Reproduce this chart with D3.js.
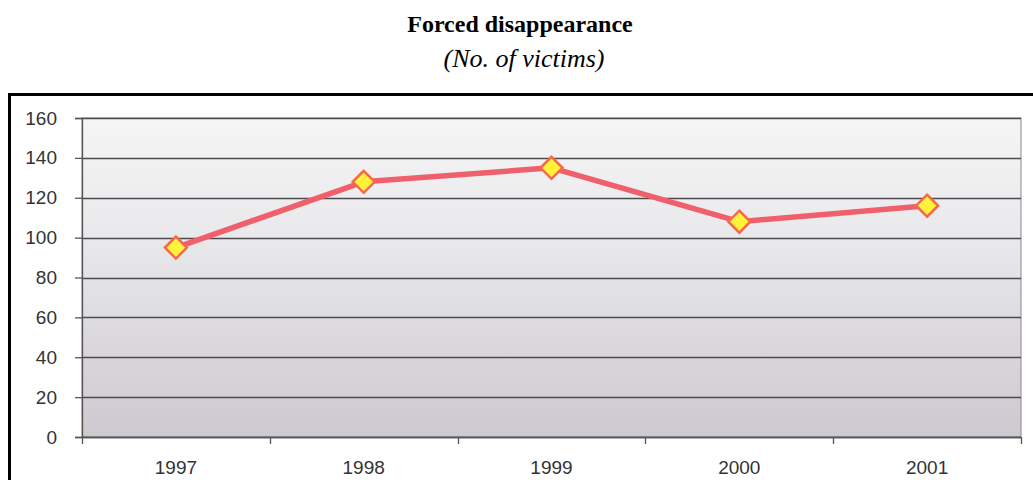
<!DOCTYPE html>
<html>
<head>
<meta charset="utf-8">
<script src="https://cdn.jsdelivr.net/npm/d3@7"></script>
<style>
  body { margin: 0; background: #fff; }
  svg { display: block; }
</style>
</head>
<body>
<div id="chart"></div>
<script>
// chart data
var years = ["1997", "1998", "1999", "2000", "2001"];
var victims = [95, 128, 135, 108, 116];
var yTicks = [0, 20, 40, 60, 80, 100, 120, 140, 160];

var svgWidth = 1033;
var svgHeight = 480;

var margin = { top: 118, right: 12, bottom: 43, left: 82 };
var width = 1021 - margin.left;
var height = 437 - margin.top;

var svg = d3.select("#chart")
  .append("svg")
  .attr("width", svgWidth)
  .attr("height", svgHeight);

// titles
svg.append("text")
  .attr("x", 520)
  .attr("y", 32)
  .attr("text-anchor", "middle")
  .attr("font-family", "Liberation Serif, Times New Roman, serif")
  .attr("font-weight", "bold")
  .attr("font-size", "24px")
  .attr("fill", "#000")
  .text("Forced disappearance");

svg.append("text")
  .attr("x", 524)
  .attr("y", 67)
  .attr("text-anchor", "middle")
  .attr("font-family", "Liberation Serif, Times New Roman, serif")
  .attr("font-style", "italic")
  .attr("font-size", "26px")
  .attr("fill", "#000")
  .text("(No. of victims)");

// outer frame (right and bottom run off the page)
svg.append("rect")
  .attr("x", 9.5)
  .attr("y", 94.5)
  .attr("width", 1040)
  .attr("height", 400)
  .attr("fill", "none")
  .attr("stroke", "#000")
  .attr("stroke-width", 3);

// plot background gradient
var defs = svg.append("defs");
var grad = defs.append("linearGradient")
  .attr("id", "bg")
  .attr("x1", 0).attr("y1", 0)
  .attr("x2", 0).attr("y2", 1);
grad.append("stop").attr("offset", "0%").attr("stop-color", "#f5f5f6");
grad.append("stop").attr("offset", "35%").attr("stop-color", "#eaeaec");
grad.append("stop").attr("offset", "100%").attr("stop-color", "#cdc9d0");

var chartGroup = svg.append("g")
  .attr("transform", `translate(${margin.left}, ${margin.top})`);

chartGroup.append("rect")
  .attr("width", width)
  .attr("height", height)
  .attr("fill", "url(#bg)")
  .attr("stroke", "#8a878c")
  .attr("stroke-width", 1);

// scales
var xBand = d3.scaleBand()
  .domain(years)
  .range([0, width]);

var yLinearScale = d3.scaleLinear()
  .domain([0, 160])
  .range([height, 0]);

// gridlines
chartGroup.selectAll(".grid")
  .data(yTicks)
  .enter()
  .append("line")
  .attr("class", "grid")
  .attr("x1", 0)
  .attr("x2", width)
  .attr("y1", d => Math.round(yLinearScale(d)) + 0.5)
  .attr("y2", d => Math.round(yLinearScale(d)) + 0.5)
  .attr("stroke", "#4d4a4e")
  .attr("stroke-width", 1.3);

// y axis
var leftAxis = d3.axisLeft(yLinearScale)
  .tickValues(yTicks)
  .tickSize(7)
  .tickPadding(18);

var yAxis = chartGroup.append("g").call(leftAxis);
yAxis.select(".domain").attr("stroke", "#555").attr("stroke-width", 1.3);
yAxis.selectAll(".tick line").attr("stroke", "#555").attr("stroke-width", 1.3);
yAxis.selectAll("text")
  .attr("font-family", "Liberation Sans, Arial, sans-serif")
  .attr("font-size", "19px")
  .attr("fill", "#333");

// x axis: ticks sit on the category boundaries
var xAxis = chartGroup.append("g")
  .attr("transform", `translate(0, ${height})`);

xAxis.append("line")
  .attr("x1", 0).attr("x2", width)
  .attr("y1", 0.5).attr("y2", 0.5)
  .attr("stroke", "#555")
  .attr("stroke-width", 1.3);

xAxis.selectAll(".xtick")
  .data(years.concat(["end"]))
  .enter()
  .append("line")
  .attr("class", "xtick")
  .attr("x1", (d, i) => Math.round(i * xBand.step()) + 0.5)
  .attr("x2", (d, i) => Math.round(i * xBand.step()) + 0.5)
  .attr("y1", 0)
  .attr("y2", 7)
  .attr("stroke", "#555")
  .attr("stroke-width", 1.3);

xAxis.selectAll(".xlabel")
  .data(years)
  .enter()
  .append("text")
  .attr("class", "xlabel")
  .attr("x", d => xBand(d) + xBand.bandwidth() / 2)
  .attr("y", 37)
  .attr("text-anchor", "middle")
  .attr("font-family", "Liberation Sans, Arial, sans-serif")
  .attr("font-size", "19px")
  .attr("fill", "#333")
  .text(d => d);

// line
var line = d3.line()
  .x((d, i) => xBand(years[i]) + xBand.bandwidth() / 2)
  .y(d => yLinearScale(d));

chartGroup.append("path")
  .datum(victims)
  .attr("d", line)
  .attr("fill", "none")
  .attr("stroke", "#f0606c")
  .attr("stroke-width", 5.5)
  .attr("stroke-linejoin", "round");

// diamond markers
chartGroup.selectAll(".marker")
  .data(victims)
  .enter()
  .append("path")
  .attr("class", "marker")
  .attr("transform", (d, i) => `translate(${xBand(years[i]) + xBand.bandwidth() / 2}, ${yLinearScale(d)})`)
  .attr("d", "M0,-11 L11,0 L0,11 L-11,0 Z")
  .attr("fill", "#fff23a")
  .attr("stroke", "#f26a4a")
  .attr("stroke-width", 2.5)
  .attr("stroke-linejoin", "miter");
</script>
</body>
</html>
